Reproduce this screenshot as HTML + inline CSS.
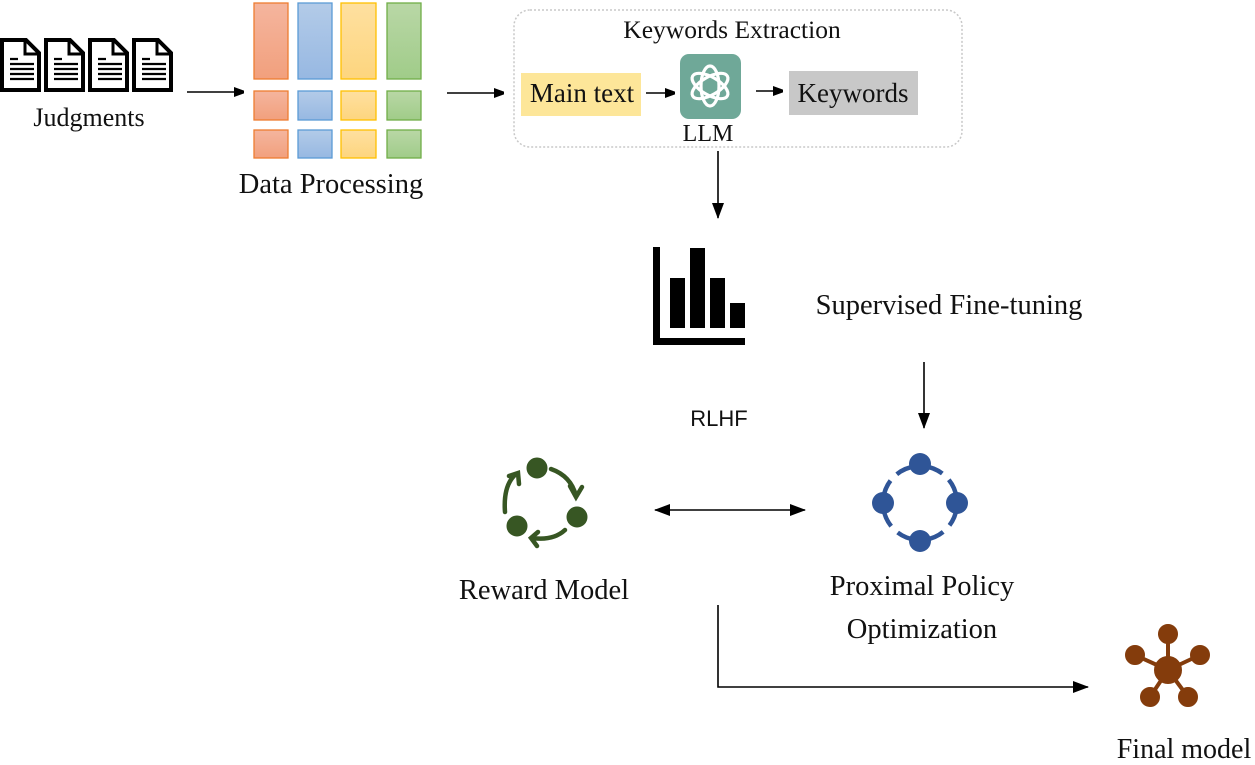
<!DOCTYPE html>
<html><head><meta charset="utf-8"><style>
html,body{margin:0;padding:0;background:#fff;}
svg{display:block;}
text{font-family:"Liberation Serif",serif;fill:#111;}
</style></head><body>
<svg width="1255" height="765" viewBox="0 0 1255 765" xmlns="http://www.w3.org/2000/svg">
<defs>
<marker id="ah" markerWidth="10" markerHeight="10" refX="9" refY="5" orient="auto" markerUnits="userSpaceOnUse"><path d="M0,0 L14,5 L0,10 z" fill="#000"/></marker>
<marker id="ah2" markerWidth="16" markerHeight="12" refX="15" refY="6" orient="auto-start-reverse" markerUnits="userSpaceOnUse"><path d="M0,0 L16,6 L0,12 z" fill="#000"/></marker>
<linearGradient id="gO" x1="0" y1="0" x2="0" y2="1"><stop offset="0" stop-color="#f4b59e"/><stop offset="1" stop-color="#f2a07d"/></linearGradient>
<linearGradient id="gB" x1="0" y1="0" x2="0" y2="1"><stop offset="0" stop-color="#b3cbe8"/><stop offset="1" stop-color="#97b8e2"/></linearGradient>
<linearGradient id="gY" x1="0" y1="0" x2="0" y2="1"><stop offset="0" stop-color="#fee0a0"/><stop offset="1" stop-color="#fdd57e"/></linearGradient>
<linearGradient id="gG" x1="0" y1="0" x2="0" y2="1"><stop offset="0" stop-color="#b9d7a6"/><stop offset="1" stop-color="#a0cc89"/></linearGradient>
<g id="doc"><path d="M2,40 H26 L39,53 V90 H2 Z" fill="#fff" stroke="#000" stroke-width="4"/><path d="M25,40 V54 H39" fill="none" stroke="#000" stroke-width="3"/><path d="M10,59 h8 M10,64 h24 M10,69 h24 M10,74 h24 M10,79 h24" stroke="#000" stroke-width="2.2"/></g>
</defs>

<use href="#doc" x="0"/><use href="#doc" x="44"/><use href="#doc" x="88"/><use href="#doc" x="132"/>
<text x="89" y="126" font-size="26" text-anchor="middle">Judgments</text>
<line x1="187" y1="92" x2="243" y2="92" stroke="#000" stroke-width="1.6" marker-end="url(#ah)"/>

<g stroke-width="1.3">
<rect x="254" y="3" width="34" height="76" fill="url(#gO)" stroke="#ed7d31"/>
<rect x="298" y="3" width="34" height="76" fill="url(#gB)" stroke="#5b9bd5"/>
<rect x="341" y="3" width="35" height="76" fill="url(#gY)" stroke="#ffc000"/>
<rect x="387" y="3" width="34" height="76" fill="url(#gG)" stroke="#70ad47"/>
<rect x="254" y="91" width="34" height="29" fill="url(#gO)" stroke="#ed7d31"/>
<rect x="298" y="91" width="34" height="29" fill="url(#gB)" stroke="#5b9bd5"/>
<rect x="341" y="91" width="35" height="29" fill="url(#gY)" stroke="#ffc000"/>
<rect x="387" y="91" width="34" height="29" fill="url(#gG)" stroke="#70ad47"/>
<rect x="254" y="130" width="34" height="28" fill="url(#gO)" stroke="#ed7d31"/>
<rect x="298" y="130" width="34" height="28" fill="url(#gB)" stroke="#5b9bd5"/>
<rect x="341" y="130" width="35" height="28" fill="url(#gY)" stroke="#ffc000"/>
<rect x="387" y="130" width="34" height="28" fill="url(#gG)" stroke="#70ad47"/>
</g>
<text x="331" y="193" font-size="28.5" text-anchor="middle">Data Processing</text>
<line x1="447" y1="93" x2="503" y2="93" stroke="#000" stroke-width="1.6" marker-end="url(#ah)"/>

<rect x="514" y="10" width="448" height="137" rx="16" fill="none" stroke="#c8c8c8" stroke-width="1.5" stroke-dasharray="2,2"/>
<text x="732" y="38" font-size="25.5" text-anchor="middle">Keywords Extraction</text>
<rect x="521" y="73" width="120" height="43" fill="#fde699"/>
<text x="582" y="102" font-size="27" text-anchor="middle">Main text</text>
<line x1="646" y1="93" x2="674" y2="93" stroke="#000" stroke-width="1.6" marker-end="url(#ah)"/>
<rect x="680" y="54" width="61" height="65" rx="9" fill="#6fa898"/>
<g fill="none" stroke="#fff" stroke-width="3.2">
<ellipse cx="710" cy="86" rx="9" ry="20"/>
<ellipse cx="710" cy="86" rx="9" ry="20" transform="rotate(60 710 86)"/>
<ellipse cx="710" cy="86" rx="9" ry="20" transform="rotate(120 710 86)"/>
</g>
<text x="708" y="141" font-size="24" text-anchor="middle">LLM</text>
<line x1="756" y1="91" x2="782" y2="91" stroke="#000" stroke-width="1.6" marker-end="url(#ah)"/>
<rect x="789" y="71" width="129" height="44" fill="#c8c8c8"/>
<text x="853" y="102" font-size="27" text-anchor="middle">Keywords</text>
<line x1="718" y1="151" x2="718" y2="218" stroke="#000" stroke-width="1.6" marker-end="url(#ah2)"/>

<rect x="653" y="247" width="7" height="98" fill="#000"/>
<rect x="653" y="338" width="92" height="7" fill="#000"/>
<rect x="670" y="278" width="15" height="50" fill="#000"/>
<rect x="690" y="248" width="15" height="80" fill="#000"/>
<rect x="710" y="278" width="15" height="50" fill="#000"/>
<rect x="730" y="303" width="15" height="25" fill="#000"/>

<text x="949" y="314" font-size="28.5" text-anchor="middle">Supervised Fine-tuning</text>
<text x="719" y="426" font-size="22" text-anchor="middle" style="font-family:'Liberation Sans',sans-serif">RLHF</text>
<line x1="924" y1="362" x2="924" y2="428" stroke="#000" stroke-width="1.6" marker-end="url(#ah2)"/>

<g fill="#375623" stroke="#375623">
<circle cx="537" cy="468" r="10"/><circle cx="577" cy="517" r="10"/><circle cx="517" cy="526" r="10"/>
<g fill="none" stroke-width="4.5" stroke-linecap="round">
<path d="M551,469 Q571,476 576,496"/><path d="M570,486 L576,497 L582,487"/>
<path d="M565,530 Q553,541 532,538"/><path d="M538,532 L531,538 L537,546"/>
<path d="M505,512 Q503,485 516,474"/><path d="M509,476 L518,473 L519,484"/>
</g></g>
<line x1="655" y1="510" x2="805" y2="510" stroke="#000" stroke-width="1.6" marker-start="url(#ah2)" marker-end="url(#ah2)"/>

<circle cx="920" cy="503" r="37" fill="none" stroke="#2f5597" stroke-width="4.5" stroke-dasharray="20,9" stroke-dashoffset="-4"/>
<g fill="#2f5597"><circle cx="920" cy="464" r="11"/><circle cx="883" cy="503" r="11"/><circle cx="957" cy="503" r="11"/><circle cx="920" cy="541" r="11"/></g>

<text x="544" y="599" font-size="28.5" text-anchor="middle">Reward Model</text>
<text x="922" y="595" font-size="28.5" text-anchor="middle">Proximal Policy</text>
<text x="922" y="638" font-size="28.5" text-anchor="middle">Optimization</text>

<polyline points="718,605 718,687 1088,687" fill="none" stroke="#000" stroke-width="1.6" marker-end="url(#ah2)"/>

<g fill="#843c0c" stroke="#843c0c" stroke-width="4">
<line x1="1168" y1="670" x2="1168" y2="634"/><line x1="1168" y1="670" x2="1135" y2="655"/><line x1="1168" y1="670" x2="1200" y2="655"/><line x1="1168" y1="670" x2="1150" y2="697"/><line x1="1168" y1="670" x2="1188" y2="697"/>
<circle cx="1168" cy="670" r="12"/><circle cx="1168" cy="634" r="8"/><circle cx="1135" cy="655" r="8"/><circle cx="1200" cy="655" r="8"/><circle cx="1150" cy="697" r="8"/><circle cx="1188" cy="697" r="8"/>
</g>
<text x="1184" y="758" font-size="28" text-anchor="middle">Final model</text>
</svg>
</body></html>
